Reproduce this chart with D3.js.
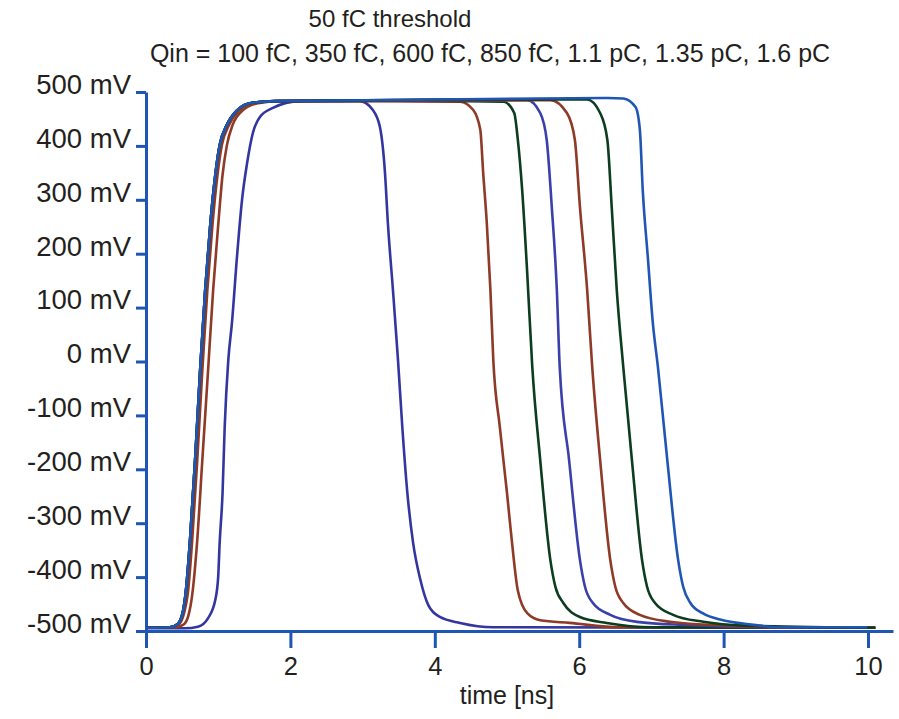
<!DOCTYPE html>
<html>
<head>
<meta charset="utf-8">
<script src="https://cdn.jsdelivr.net/npm/d3@7"></script>
<style>
  body { margin: 0; background: #fff; }
  text { font-family: "Liberation Sans", Arial, sans-serif; fill: #231f20; }
</style>
</head>
<body>
<div id="chart"></div>
<script>
// charges, one trace each
var charges = ["100 fC", "350 fC", "600 fC", "850 fC", "1.1 pC", "1.35 pC", "1.6 pC"];
var colors = ["#3436a0", "#8e3a26", "#0b3d1e", "#3a40aa", "#8e3a26", "#0b3d1e", "#1f56b3"];

var xTicks = [0, 2, 4, 6, 8, 10];
var yTicks = [-500, -400, -300, -200, -100, 0, 100, 200, 300, 400, 500];

// [time ns, mV]
var riseFast = [[0, -494], [0.33, -493], [0.44, -487], [0.51, -465], [0.55, -429], [0.61, -331], [0.68, -183],
  [0.75, -16], [0.82, 133], [0.89, 253], [0.96, 346], [1.02, 401], [1.12, 439], [1.26, 466], [1.47, 480], [1.79, 483]];
var rise1100 = [[0, -494], [0.35, -493], [0.46, -487], [0.53, -465], [0.58, -429], [0.64, -331], [0.71, -183],
  [0.78, -16], [0.85, 133], [0.92, 253], [0.99, 346], [1.05, 401], [1.15, 439], [1.29, 466], [1.50, 480], [1.81, 483]];
var rise350 = [[0, -494], [0.40, -493], [0.52, -488], [0.59, -470], [0.64, -433], [0.71, -331], [0.78, -183],
  [0.86, -16], [0.93, 133], [1.00, 253], [1.06, 346], [1.12, 401], [1.20, 439], [1.34, 466], [1.55, 479], [1.85, 483]];
var rise100 = [[0, -495], [0.54, -495], [0.72, -492], [0.86, -476], [0.96, -442], [1.00, -399], [1.02, -337],
  [1.06, -245], [1.09, -121], [1.14, 3], [1.19, 71], [1.26, 194], [1.33, 300], [1.40, 368], [1.48, 424],
  [1.58, 454], [1.75, 470], [2.13, 483]];

var fall100 = [[2.96, 483], [3.14, 467], [3.24, 435], [3.31, 350], [3.35, 257], [3.42, 133], [3.49, 3],
  [3.55, -122], [3.62, -244], [3.70, -337], [3.80, -405], [3.91, -452], [4.07, -474], [4.35, -485],
  [4.81, -493], [10.1, -494]];
var fall350 = [[3.2, 483], [4.35, 482], [4.53, 467], [4.63, 430], [4.67, 350], [4.72, 257], [4.77, 133],
  [4.81, 3], [4.90, -121], [5.00, -244], [5.07, -337], [5.15, -425], [5.28, -467], [5.46, -480],
  [5.87, -485], [6.57, -493], [10.1, -494]];
var fall600 = [[3.5, 484], [4.95, 482], [5.10, 461], [5.15, 411], [5.21, 318], [5.28, 164], [5.35, -10],
  [5.46, -183], [5.60, -368], [5.67, -418], [5.78, -448], [6.01, -474], [6.38, -485], [7.02, -493], [10.1, -494]];
var fall850 = [[3.8, 485], [5.28, 485], [5.46, 461], [5.55, 411], [5.62, 287], [5.69, 133], [5.73, -10],
  [5.86, -183], [6.01, -368], [6.08, -418], [6.19, -448], [6.43, -470], [6.80, -483], [7.49, -489],
  [8.5, -493], [10.1, -494]];
var fall1100 = [[4.0, 485], [5.60, 485], [5.83, 461], [5.94, 411], [6.01, 287], [6.11, 133], [6.18, -10],
  [6.29, -183], [6.43, -368], [6.50, -418], [6.61, -448], [6.84, -470], [7.26, -483], [7.85, -489],
  [8.8, -493], [10.1, -494]];
var fall1350 = [[4.2, 486], [6.11, 486], [6.29, 461], [6.39, 411], [6.45, 287], [6.52, 133], [6.61, -10],
  [6.73, -183], [6.87, -368], [6.94, -418], [7.05, -448], [7.30, -470], [7.72, -483], [8.3, -490], [10.1, -494]];
var fall1600 = [[4.0, 486], [6.40, 489], [6.61, 488], [6.78, 472], [6.84, 430], [6.88, 318], [6.95, 194],
  [7.02, 71], [7.09, -10], [7.22, -183], [7.37, -368], [7.44, -418], [7.54, -448], [7.71, -467],
  [7.99, -480], [8.32, -487], [8.78, -493], [9.99, -493]];

var traces = [rise100.concat(fall100), rise350.concat(fall350), riseFast.concat(fall600),
  riseFast.concat(fall850), rise1100.concat(fall1100), riseFast.concat(fall1350), riseFast.concat(fall1600)];

var width = 899, height = 719;
var axisColor = "#1f56b3";

var svg = d3.select("#chart").append("svg")
    .attr("width", width)
    .attr("height", height)
    .style("background", "#fff");

var x = d3.scaleLinear().domain([0, 10.346]).range([146, 893]);
var y = d3.scaleLinear().domain([-500, 500]).range([631, 92]);

// titles
svg.append("text").attr("x", 390).attr("y", 27).attr("text-anchor", "middle")
    .style("font-size", "24px").text("50 fC threshold");
svg.append("text").attr("x", 490).attr("y", 62).attr("text-anchor", "middle")
    .style("font-size", "25px").text("Qin = " + charges.join(", "));

// y axis
var gy = svg.append("g").attr("transform", "translate(" + x(0) + ",0)")
    .call(d3.axisLeft(y).tickValues(yTicks).tickSize(10).tickSizeOuter(0)
      .tickFormat(function(d) { return d + " mV"; }));
gy.selectAll("path, line").attr("stroke", axisColor).attr("stroke-width", 3);
gy.selectAll("text").attr("x", -15).attr("dy", "0.05em")
    .style("font-size", "27.5px").style("font-family", "'Liberation Sans', Arial, sans-serif").attr("fill", "#231f20");

// x axis
var gx = svg.append("g").attr("transform", "translate(0," + y(-500) + ")")
    .call(d3.axisBottom(x).tickValues(xTicks).tickSize(17).tickSizeOuter(0));
gx.selectAll("path, line").attr("stroke", axisColor).attr("stroke-width", 3);
gx.selectAll("text").attr("y", 44).attr("dy", "0")
    .style("font-size", "25.5px").style("font-family", "'Liberation Sans', Arial, sans-serif").attr("fill", "#231f20");

svg.append("text").attr("x", 507).attr("y", 704).attr("text-anchor", "middle")
    .style("font-size", "25px").text("time [ns]");

var line = d3.line()
    .x(function(d) { return x(d[0]); })
    .y(function(d) { return y(d[1]); })
    .curve(d3.curveMonotoneX);

svg.selectAll(".trace")
    .data(traces)
    .enter().append("path")
    .attr("class", "trace")
    .attr("fill", "none")
    .attr("stroke", function(d, i) { return colors[i]; })
    .attr("stroke-width", 2.6)
    .attr("stroke-linejoin", "round")
    .attr("d", line);
</script>
</body>
</html>
